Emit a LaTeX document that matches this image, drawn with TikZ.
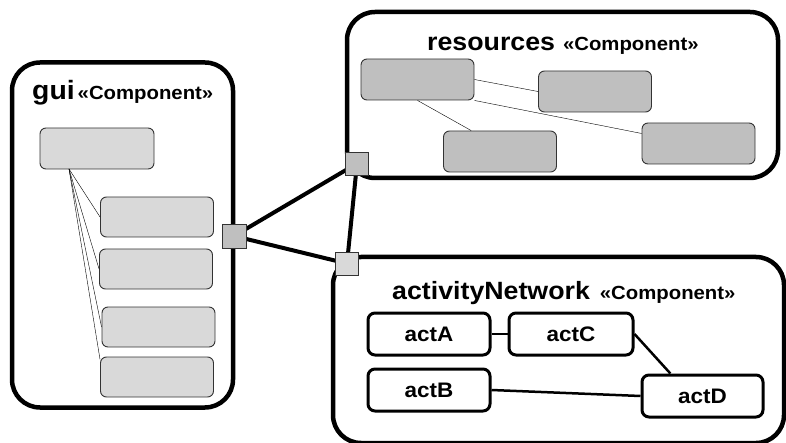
\documentclass[tikz,border=0pt]{standalone}
\usepackage{fontspec}
\setmainfont{Liberation Sans}[FakeStretch = 1.07]

\tikzset{
	comp/.style = {draw, line width = 4.5pt, rounded corners = 28pt, inner sep = 0pt},
	title/.style = {anchor = base west, inner sep = 0pt, font = \bfseries},
	guipart/.style = {draw = black!80, line width = 0.9pt, fill = black!15, rounded corners = 6pt, minimum width = 113pt, minimum height = 40pt, inner sep = 0pt},
	respart/.style = {guipart, fill = black!25},
	act/.style = {draw, line width = 3pt, fill = white, rounded corners = 7pt, minimum width = 120pt, minimum height = 40pt, inner sep = 0pt, font = \fontsize{21}{23}\selectfont\bfseries},
	port/.style = {draw = black!80, line width = 0.9pt, fill = black!25, minimum size = 23pt, inner sep = 0pt},
	wire/.style = {line width = 4pt}
}

\newcommand{\stereo}{\fontsize{19}{21}\selectfont «Component»}

\begin{document}
\begin{tikzpicture}[x = 1pt, y = -1pt]
	 \useasboundingbox (0, 0) rectangle (786, 443);

	 \node[comp, minimum width = 221pt, minimum height = 345pt] (gui) at (122.5, 235) {};
	 \node[comp, minimum width = 431pt, minimum height = 166pt] (resources) at (562.5, 95) {};
	 \node[comp, minimum width = 451pt, minimum height = 186pt] (activityNetwork) at (558.5, 350) {};

	 \node[title] (guititle) at (32, 100) {\fontsize{26.5}{28}\selectfont gui\hspace{3pt}\stereo};
	 \node[title] (restitle) at (427, 51) {\fontsize{25}{27}\selectfont resources\hspace{8pt}\stereo};
	 \node[title] (acttitle) at (392, 299) {\fontsize{25}{27}\selectfont activityNetwork\hspace{10pt}\stereo};

	 \node[guipart, minimum width = 114pt, minimum height = 41pt] (g0) at (97, 148.5) {};
	 \node[guipart] (g1) at (157, 217) {};
	 \node[guipart] (g2) at (156, 269) {};
	 \node[guipart] (g3) at (158.5, 327) {};
	 \node[guipart] (g4) at (157, 377) {};
	 \coordinate (gfan) at (69, 169);
	 \draw[thin] (gfan) -- (g1.west);
	 \draw[thin] (gfan) -- (g2.west);
	 \draw[thin] (gfan) -- (g3.west);
	 \draw[thin] (gfan) -- (g4.163);

	 \node[respart, minimum height = 41pt] (r1) at (417.5, 79.5) {};
	 \node[respart, minimum height = 41pt] (r2) at (595, 91.5) {};
	 \node[respart, minimum height = 41pt] (r3) at (500, 151.5) {};
	 \node[respart, minimum height = 41pt] (r4) at (698.5, 143.5) {};
	 \draw[thin] (r1.east) -- (r2.west);
	 \draw[thin] (r1.south east) -- (r4.170);
	 \draw[thin] (r1.south) -- (r3.144);

	 \node[act, minimum width = 122pt, minimum height = 42pt] (actA) at (429, 334) {actA};
	 \node[act, minimum width = 124pt, minimum height = 42pt] (actC) at (571, 334) {actC};
	 \node[act, minimum width = 122pt, minimum height = 42pt] (actB) at (429, 390) {actB};
	 \node[act, minimum width = 121pt, minimum height = 42pt] (actD) at (702.5, 396) {actD};
	 \draw[line width = 2.5pt] (actA) -- (actC);
	 \draw[line width = 2.5pt] (actC.east) -- (actD.145);
	 \draw[line width = 2.5pt] (actB.east) -- (actD.west);

	 \draw[wire] (234, 236) -- (357, 163.5);
	 \draw[wire] (234, 236) -- (347, 263.5);
	 \draw[wire] (357, 163.5) -- (347, 263.5);
	 \node[port, minimum size = 24pt] (guiport) at (234, 236) {};
	 \node[port] (resport) at (357, 163.5) {};
	 \node[port, fill = black!15] (actport) at (347, 263.5) {};
	 \end{tikzpicture}
\end{document}
